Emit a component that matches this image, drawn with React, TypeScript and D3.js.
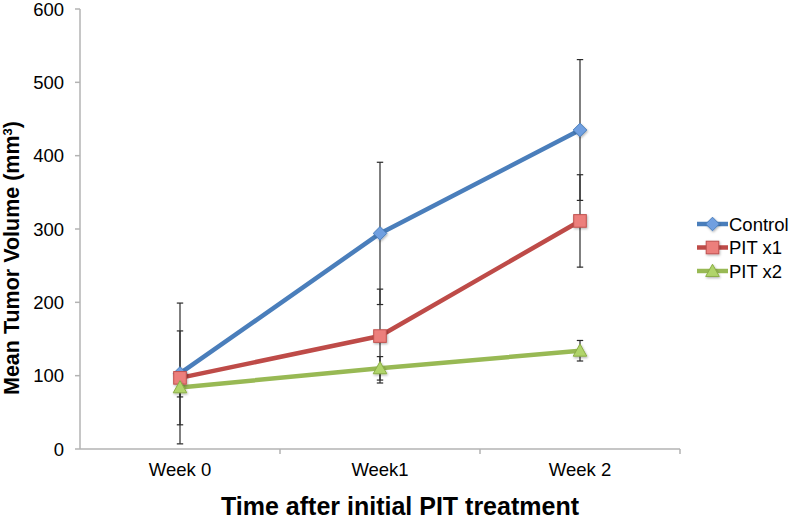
import React from "react";
import * as d3 from "d3";

const categories = ["Week 0", "Week1", "Week 2"];
const seriesNames = ["Control", "PIT x1", "PIT x2"];
const controlValues = [103, 294, 435];
const controlErrors = [96, 97, 96];
const pit1Values = [97, 154, 311];
const pit1Errors = [64, 64, 63];
const pit2Values = [84, 110, 134];
const pit2Errors = [13, 16, 14];
const yTicks = [0, 100, 200, 300, 400, 500, 600];

const lineColors = ["#4a7ebb", "#be4b48", "#98b954"];
const fillColors = ["#6f9fe0", "#ec7f7c", "#b0d46a"];
const strokeColors = ["#4a7ebb", "#c0504d", "#8aad45"];
const markers = ["diamond", "square", "triangle"];

const FONT = "Liberation Sans, Arial, sans-serif";

function Marker({ type, x, y, fill, stroke }: { type: string; x: number; y: number; fill: string; stroke: string }) {
  if (type === "diamond") {
    const r = 6.8;
    return <path d={`M${x},${y - r}L${x + r},${y}L${x},${y + r}L${x - r},${y}Z`} fill={fill} stroke={stroke} strokeWidth={1} filter="url(#sh)" />;
  }
  if (type === "square") {
    const r = 6.3;
    return <rect x={x - r} y={y - r} width={2 * r} height={2 * r} fill={fill} stroke={stroke} strokeWidth={1} filter="url(#sh)" />;
  }
  const r = 6.8;
  return <path d={`M${x},${y - r}L${x + r},${y + r * 0.8}L${x - r},${y + r * 0.8}Z`} fill={fill} stroke={stroke} strokeWidth={1} filter="url(#sh)" />;
}

export default function App() {
  const width = 795;
  const height = 519;
  const left = 80;
  const right = 680;
  const top = 9;
  const bottom = 449;

  const x = d3.scaleBand<string>().domain(categories).range([left, right]).padding(0);
  const y = d3.scaleLinear().domain([0, 600]).range([bottom, top]);
  const cx = (c: string) => (x(c) as number) + x.bandwidth() / 2;

  const values = [controlValues, pit1Values, pit2Values];
  const errors = [controlErrors, pit1Errors, pit2Errors];

  const line = d3
    .line<number>()
    .x((_, i) => cx(categories[i]))
    .y((v) => y(v));

  const axisColor = "#b3b3b3";

  return (
    <svg width={width} height={height} style={{ position: "absolute", left: 0, top: 0 }} fontFamily={FONT}>
      <defs>
        <filter id="sh" x="-50%" y="-50%" width="200%" height="200%">
          <feDropShadow dx="0.8" dy="1.2" stdDeviation="0.8" floodColor="#000" floodOpacity="0.3" />
        </filter>
      </defs>
      <rect width={width} height={height} fill="#fff" />
      {/* y axis */}
      <line x1={left} x2={left} y1={top} y2={bottom} stroke={axisColor} strokeWidth={1.5} />
      {yTicks.map((t) => (
        <g key={t}>
          <line x1={left - 5} x2={left} y1={y(t)} y2={y(t)} stroke={axisColor} strokeWidth={1.5} />
          <text x={left - 16} y={y(t)} dy="0.36em" textAnchor="end" fontSize={18.5} fill="#000">
            {t}
          </text>
        </g>
      ))}
      {/* x axis */}
      <line x1={left} x2={right} y1={bottom} y2={bottom} stroke={axisColor} strokeWidth={1.5} />
      {categories.map((c, i) => (
        <line key={"t" + i} x1={(x(c) as number) + x.bandwidth()} x2={(x(c) as number) + x.bandwidth()} y1={bottom} y2={bottom + 5} stroke={axisColor} strokeWidth={1.5} />
      ))}
      {categories.map((c) => (
        <text key={c} x={cx(c)} y={476} textAnchor="middle" fontSize={18.5} fill="#000">
          {c}
        </text>
      ))}
      {/* error bars */}
      {values.map((vals, s) =>
        vals.map((v, i) => {
          const px = cx(categories[i]);
          const e = errors[s][i];
          return (
            <g key={`e${s}-${i}`} stroke="#2a2a2a" strokeWidth={1.2}>
              <line x1={px} x2={px} y1={y(v - e)} y2={y(v + e)} />
              <line x1={px - 3.2} x2={px + 3.2} y1={y(v - e)} y2={y(v - e)} />
              <line x1={px - 3.2} x2={px + 3.2} y1={y(v + e)} y2={y(v + e)} />
            </g>
          );
        })
      )}
      {/* lines */}
      {values.map((vals, s) => (
        <path key={"l" + s} d={line(vals) as string} fill="none" stroke={lineColors[s]} strokeWidth={4.5} strokeLinejoin="round" />
      ))}
      {/* markers */}
      {values.map((vals, s) =>
        vals.map((v, i) => (
          <Marker key={`m${s}-${i}`} type={markers[s]} x={cx(categories[i])} y={y(v)} fill={fillColors[s]} stroke={strokeColors[s]} />
        ))
      )}
      {/* legend */}
      {seriesNames.map((n, s) => {
        const ly = 224 + s * 23.5;
        return (
          <g key={n}>
            <line x1={697} x2={728} y1={ly} y2={ly} stroke={lineColors[s]} strokeWidth={4.5} />
            <Marker type={markers[s]} x={712.5} y={ly} fill={fillColors[s]} stroke={strokeColors[s]} />
            <text x={729} y={ly} dy="0.36em" fontSize={18.5} fill="#000">
              {n}
            </text>
          </g>
        );
      })}
      {/* axis titles */}
      <text x={400} y={515} textAnchor="middle" fontSize={25} fontWeight="bold" fill="#000">
        Time after initial PIT treatment
      </text>
      <text transform="translate(19,258) rotate(-90)" textAnchor="middle" fontSize={21.5} fontWeight="bold" fill="#000">
        Mean Tumor Volume (mm
        <tspan baselineShift="super" fontSize={13}>3</tspan>)
      </text>
    </svg>
  );
}
